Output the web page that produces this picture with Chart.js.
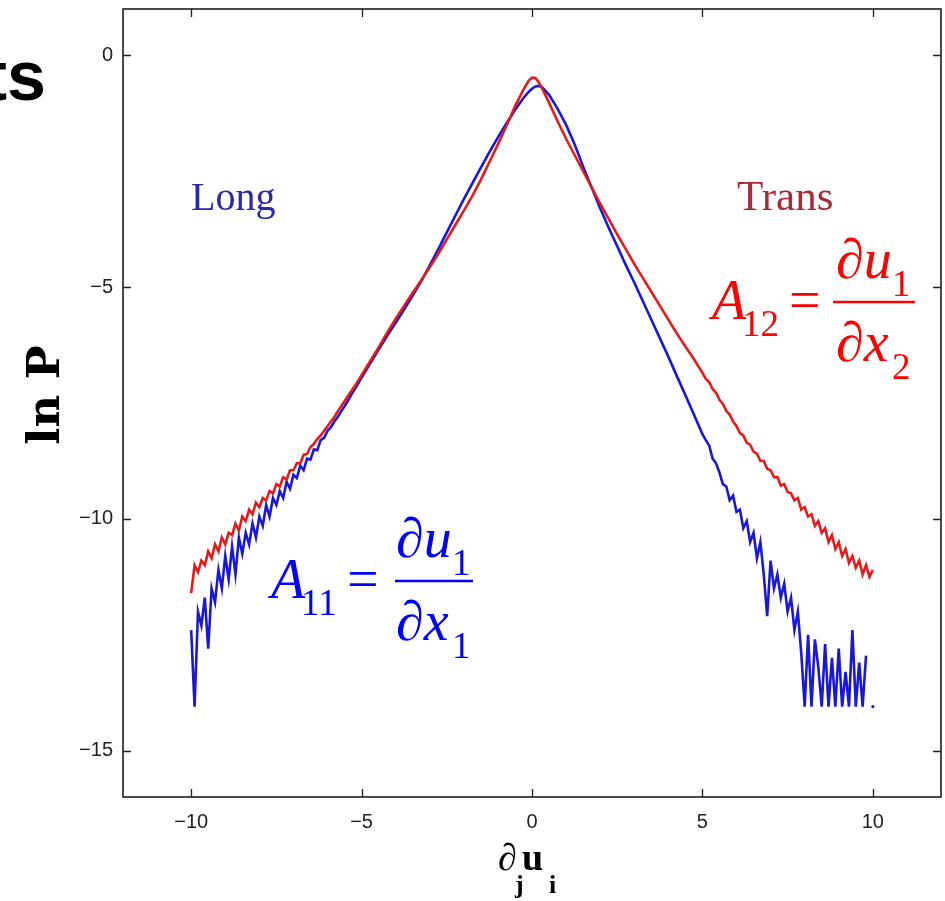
<!DOCTYPE html>
<html>
<head>
<meta charset="utf-8">
<script src="https://cdn.jsdelivr.net/npm/chart.js@4/dist/chart.umd.min.js"></script>
<style>
  html, body { margin: 0; padding: 0; background: #ffffff; }
  #wrap { position: relative; width: 945px; height: 901px; }
</style>
</head>
<body>
<div id="wrap"><canvas id="c" width="945" height="901"></canvas></div>
<script>
// ---- data ----
const xGrid = [
  -10,-9.9,-9.8,-9.7,-9.6,-9.5,-9.4,-9.3,-9.2,-9.1,
  -9,-8.9,-8.8,-8.7,-8.6,-8.5,-8.4,-8.3,-8.2,-8.1,
  -8,-7.9,-7.8,-7.7,-7.6,-7.5,-7.4,-7.3,-7.2,-7.1,
  -7,-6.9,-6.8,-6.7,-6.6,-6.5,-6.4,-6.3,-6.2,-6.1,
  -6,-5.9,-5.8,-5.7,-5.6,-5.5,-5.4,-5.3,-5.2,-5.1,
  -5,-4.75,-4.5,-4.25,-4,-3.75,-3.5,-3.25,-3,-2.75,-2.5,-2.25,-2,-1.75,-1.5,-1.25,-1,-0.75,-0.5,-0.25,-0.1,
  0,0.1,0.2,0.3,0.5,0.75,
  1,1.25,1.5,1.75,2,2.25,2.5,2.75,3,3.25,3.5,3.75,4,4.25,4.5,4.75,
  5,5.1,5.2,5.3,5.4,5.5,5.6,5.7,5.8,5.9,
  6,6.1,6.2,6.3,6.4,6.5,6.6,6.7,6.8,6.9,
  7,7.1,7.2,7.3,7.4,7.5,7.6,7.7,7.8,7.9,
  8,8.1,8.2,8.3,8.4,8.5,8.6,8.7,8.8,8.9,
  9,9.1,9.2,9.3,9.4,9.5,9.6,9.7,9.8,9.9,
  10
];

// Long (A11), ln P
const longLnP = [
  -12.4,-14.05,-12.0,-12.3,-11.7,-12.8,-11.5,-11.8,-11.1,-11.5,
  -10.8,-11.3,-10.6,-11.2,-10.4,-10.75,-10.3,-10.55,-10.1,-10.4,
  -9.95,-10.15,-9.7,-9.95,-9.55,-9.7,-9.4,-9.55,-9.2,-9.35,
  -9.05,-9.12,-8.85,-8.95,-8.7,-8.72,-8.5,-8.52,-8.3,-8.25,
  -8.1,-8.02,-7.9,-7.8,-7.68,-7.57,-7.45,-7.32,-7.2,-7.08,
  -6.95,-6.65,-6.35,-6.05,-5.77,-5.48,-5.18,-4.87,-4.53,-4.18,-3.82,-3.46,-3.1,-2.76,-2.42,-2.09,-1.77,-1.47,-1.18,-0.92,-0.79,
  -0.72,-0.67,-0.66,-0.69,-0.85,-1.15,
  -1.5,-1.92,-2.4,-2.85,-3.3,-3.72,-4.12,-4.52,-4.9,-5.3,-5.7,-6.1,-6.5,-6.92,-7.33,-7.75,
  -8.17,-8.3,-8.42,-8.7,-8.8,-9.0,-9.25,-9.3,-9.6,-9.5,
  -9.85,-9.8,-10.2,-10.05,-10.5,-10.3,-10.85,-10.5,-11.2,-12.1,
  -10.9,-11.5,-11.2,-11.7,-11.4,-12.0,-11.7,-12.4,-12.0,-12.9,
  -14.05,-12.5,-14.05,-12.6,-13.2,-14.05,-12.7,-14.05,-13.0,-14.05,
  -12.8,-14.05,-13.3,-14.05,-12.4,-14.05,-13.1,-14.05,-12.95,null,
  -14.05
];

// Trans (A12), ln P
const transLnP = [
  -11.6,-11.0,-11.15,-10.9,-11.0,-10.7,-10.85,-10.55,-10.7,-10.4,
  -10.55,-10.3,-10.35,-10.1,-10.25,-9.95,-10.05,-9.8,-9.9,-9.65,
  -9.75,-9.55,-9.6,-9.4,-9.45,-9.25,-9.3,-9.1,-9.15,-8.95,
  -8.95,-8.8,-8.8,-8.62,-8.6,-8.45,-8.38,-8.28,-8.2,-8.1,
  -8.0,-7.9,-7.8,-7.68,-7.57,-7.46,-7.35,-7.24,-7.13,-7.02,
  -6.9,-6.6,-6.3,-5.98,-5.68,-5.4,-5.12,-4.85,-4.57,-4.28,-3.97,-3.66,-3.35,-3.03,-2.68,-2.3,-1.92,-1.52,-1.1,-0.74,-0.55,
  -0.48,-0.49,-0.58,-0.72,-1.02,-1.42,
  -1.8,-2.15,-2.5,-2.85,-3.2,-3.53,-3.86,-4.18,-4.5,-4.8,-5.1,-5.4,-5.7,-6.0,-6.28,-6.55,
  -6.85,-6.98,-7.05,-7.2,-7.28,-7.43,-7.52,-7.67,-7.75,-7.9,
  -8.0,-8.15,-8.2,-8.36,-8.4,-8.55,-8.6,-8.75,-8.75,-8.92,
  -8.95,-9.1,-9.1,-9.28,-9.25,-9.42,-9.45,-9.6,-9.55,-9.8,
  -9.75,-9.95,-9.9,-10.15,-10.05,-10.3,-10.2,-10.5,-10.35,-10.65,
  -10.5,-10.8,-10.65,-10.95,-10.8,-11.05,-10.9,-11.2,-11.0,-11.25,
  -11.1
];

const xTickValues = [-10, -5, 0, 5, 10];
const yTickValues = [-15, -10, -5, 0];
const seriesNames = ['Trans', 'Long'];

// ---- drawing ----
const RED = '#e41b1b';
const BLUE = '#1818d6';

function toPoints(vals) {
  return xGrid.map((x, i) => ({ x: x, y: vals[i] }));
}
function fmt(v) { return v < 0 ? '\u2212' + Math.abs(v) : String(v); }

const decor = {
  id: 'decor',
  afterDraw(chart) {
    const { ctx, chartArea: a, scales } = chart;
    const xs = scales.x, ys = scales.y;
    ctx.save();
    // box
    ctx.strokeStyle = '#1e1e1e';
    ctx.lineWidth = 1.6;
    ctx.strokeRect(a.left, a.top, a.right - a.left, a.bottom - a.top);
    // inward ticks on all four sides
    ctx.lineWidth = 1.3;
    ctx.beginPath();
    xTickValues.forEach(v => {
      const p = Math.round(xs.getPixelForValue(v)) + 0.5;
      ctx.moveTo(p, a.bottom); ctx.lineTo(p, a.bottom - 8);
      ctx.moveTo(p, a.top); ctx.lineTo(p, a.top + 8);
    });
    yTickValues.forEach(v => {
      const p = Math.round(ys.getPixelForValue(v)) + 0.5;
      ctx.moveTo(a.left, p); ctx.lineTo(a.left + 8, p);
      ctx.moveTo(a.right, p); ctx.lineTo(a.right - 8, p);
    });
    ctx.stroke();

    const serif = '"Liberation Serif", "Times New Roman", serif';
    // cropped title fragment
    ctx.fillStyle = '#000';
    ctx.font = 'bold 70px "Liberation Sans", Arial, sans-serif';
    ctx.textAlign = 'right';
    ctx.textBaseline = 'alphabetic';
    ctx.fillText('ts', 46, 100);

    // series names
    ctx.textAlign = 'left';
    ctx.font = '40px ' + serif;
    ctx.fillStyle = '#2a2aa6';
    ctx.fillText(seriesNames[1], 191, 210);
    ctx.font = '43px ' + serif;
    ctx.fillStyle = '#a82a36';
    ctx.fillText(seriesNames[0], 737, 210);

    // equations
    function eq(color, x0, barY, sub, denSub, eqX, barL, barR, numX, subX) {
      ctx.fillStyle = color;
      ctx.strokeStyle = color;
      ctx.textAlign = 'left';
      ctx.font = 'italic 56px ' + serif;
      ctx.fillText('A', x0, barY + 17);
      ctx.font = '37px ' + serif;
      ctx.fillText(sub, x0 + 30, barY + 34);
      ctx.font = '56px ' + serif;
      ctx.fillText('=', eqX, barY + 17);
      ctx.lineWidth = 2.6;
      ctx.beginPath(); ctx.moveTo(barL, barY); ctx.lineTo(barR, barY); ctx.stroke();
      // numerator
      ctx.font = '56px ' + serif;
      ctx.fillText('\u2202', numX, barY - 24);
      let w = ctx.measureText('\u2202').width;
      ctx.font = 'italic 56px ' + serif;
      ctx.fillText('u', numX + w, barY - 24);
      ctx.font = '37px ' + serif;
      ctx.fillText('1', subX, barY - 6);
      // denominator
      ctx.font = '56px ' + serif;
      ctx.fillText('\u2202', numX, barY + 59);
      ctx.font = 'italic 56px ' + serif;
      ctx.fillText('x', numX + w, barY + 59);
      ctx.font = '37px ' + serif;
      ctx.fillText(denSub, subX, barY + 77);
    }
    eq('#ff0000', 712, 302, '12', '2', 789, 833, 915, 836, 892);
    eq('#0000ff', 271, 581, '11', '1', 347, 395, 473, 396, 452);

    // y axis title
    ctx.save();
    ctx.translate(59, 395);
    ctx.rotate(-Math.PI / 2);
    ctx.fillStyle = '#000';
    ctx.textAlign = 'center';
    ctx.font = 'bold 45px "DejaVu Serif", serif';
    ctx.fillText('ln P', 0, 0);
    ctx.restore();

    // x axis title: ∂_j u_i
    ctx.fillStyle = '#000';
    ctx.textAlign = 'left';
    ctx.font = '38px ' + serif;
    ctx.fillText('\u2202', 498, 870);
    ctx.font = 'bold 26px ' + serif;
    ctx.fillText('j', 515, 893);
    ctx.font = 'bold 38px ' + serif;
    ctx.fillText('u', 522, 870);
    ctx.font = 'bold 26px ' + serif;
    ctx.fillText('i', 549, 893);
    ctx.restore();
  }
};

new Chart(document.getElementById('c'), {
  type: 'line',
  data: {
    datasets: [
      {
        label: seriesNames[0],
        data: toPoints(transLnP),
        borderColor: RED,
        borderWidth: 2.6,
        pointRadius: 0,
        tension: 0,
        fill: false,
        spanGaps: false
      },
      {
        label: seriesNames[1],
        data: toPoints(longLnP),
        borderColor: BLUE,
        backgroundColor: BLUE,
        borderWidth: 2.6,
        pointRadius: (c) => (c.dataIndex === longLnP.length - 1 ? 1.6 : 0),
        pointBorderWidth: 0,
        tension: 0,
        fill: false,
        spanGaps: false
      }
    ]
  },
  options: {
    responsive: false,
    animation: false,
    events: [],
    layout: { padding: { left: 0, top: 9, right: 4, bottom: 0 } },
    plugins: { legend: { display: false }, tooltip: { enabled: false } },
    scales: {
      x: {
        type: 'linear',
        min: -12, max: 12,
        afterBuildTicks: (s) => { s.ticks = xTickValues.map(v => ({ value: v })); },
        afterFit: (s) => { s.height = 104; s.paddingLeft = 0; s.paddingRight = 0; },
        grid: { display: false, drawTicks: false },
        border: { display: false },
        ticks: {
          padding: 13,
          color: '#222',
          font: { family: '"Liberation Sans", Arial, sans-serif', size: 20 },
          callback: (v) => fmt(v),
          maxRotation: 0
        }
      },
      y: {
        type: 'linear',
        min: -16, max: 1,
        afterBuildTicks: (s) => { s.ticks = yTickValues.map(v => ({ value: v })); },
        afterFit: (s) => { s.width = 123; s.paddingTop = 0; s.paddingBottom = 0; },
        grid: { display: false, drawTicks: false },
        border: { display: false },
        ticks: {
          padding: 10,
          color: '#222',
          font: { family: '"Liberation Sans", Arial, sans-serif', size: 20 },
          callback: (v) => fmt(v)
        }
      }
    }
  },
  plugins: [decor]
});
</script>
</body>
</html>
